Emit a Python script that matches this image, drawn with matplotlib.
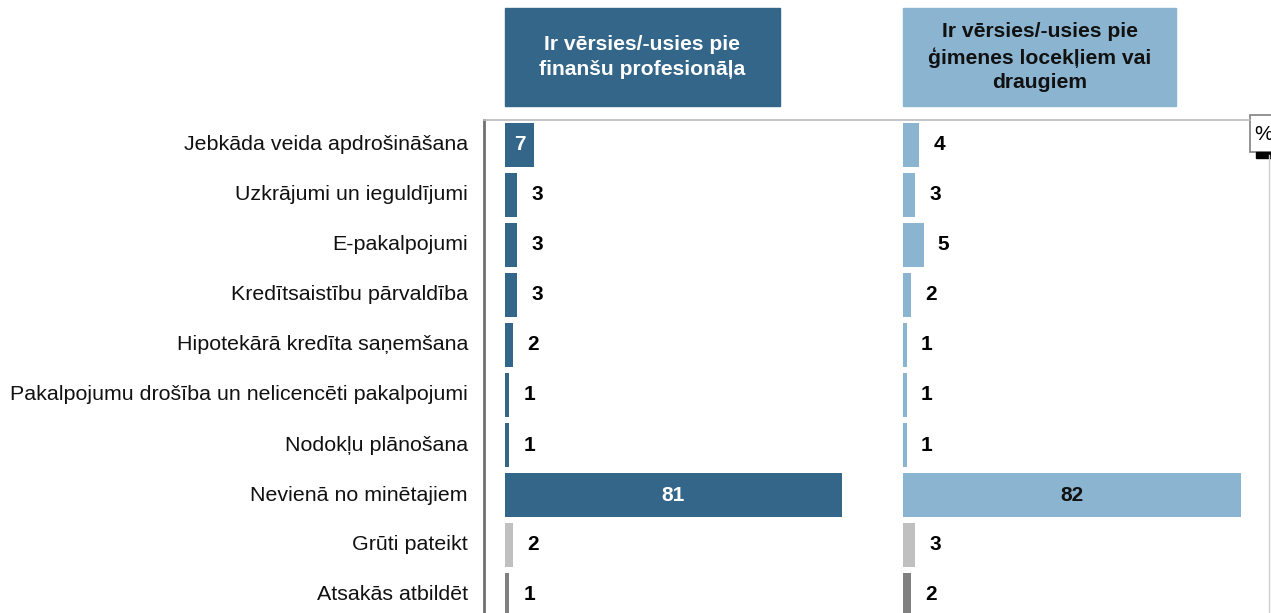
import numpy as np
import matplotlib.pyplot as plt
from matplotlib.patches import Rectangle
from matplotlib.lines import Line2D

plt.rcParams['font.family'] = ['Liberation Sans', 'DejaVu Sans']

categories = ['Jebkāda veida apdrošināšana', 'Uzkrājumi un ieguldījumi', 'E-pakalpojumi',
              'Kredītsaistību pārvaldība', 'Hipotekārā kredīta saņemšana',
              'Pakalpojumu drošība un nelicencēti pakalpojumi', 'Nodokļu plānošana',
              'Nevienā no minētajiem', 'Grūti pateikt', 'Atsakās atbildēt']
professional = [7, 3, 3, 3, 2, 1, 1, 81, 2, 1]
family = [4, 3, 5, 2, 1, 1, 1, 82, 3, 2]
headers = ['Ir vērsies/-usies pie\nfinanšu profesionāļa',
           'Ir vērsies/-usies pie\nģimenes locekļiem vai\ndraugiem']

dark_blue = '#336688'
light_blue = '#8AB4CF'
grey = '#C0C0C0'
dark_grey = '#808080'

W, H = 1271, 613
fig = plt.figure(figsize=(W / 100, H / 100), dpi=100)

def px_axes(x0, x1, y0, y1):
    return fig.add_axes([x0 / W, 1 - y1 / H, (x1 - x0) / W, (y1 - y0) / H])

y = np.arange(len(categories))
ylim = (9.36, -0.5)

panels = [
    (505, 880, 4.16, professional, dark_blue, 'white', headers[0], 780),
    (903, 1250, 4.12, family, light_blue, '#111111', headers[1], 1176),
]

for i, (x0, x1, scale, vals, col, big_txt, head, hx1) in enumerate(panels):
    ax = px_axes(x0, x1, 120, 613)
    ax.set_xlim(0, (x1 - x0) / scale)
    ax.set_ylim(*ylim)
    ax.axis('off')
    colors = [col] * 8 + [grey, dark_grey]
    ax.barh(y, vals, height=0.88, color=colors)
    for yy, v in zip(y, vals):
        if v >= 50:
            ax.text(v / 2, yy, str(v), ha='center', va='center', fontsize=15,
                    fontweight='bold', color=big_txt)
        elif i == 0 and v >= 6:
            ax.text(v / 2, yy, str(v), ha='center', va='center', fontsize=15,
                    fontweight='bold', color='white')
        else:
            ax.text(v + 14 / scale, yy, str(v), ha='left', va='center',
                    fontsize=15, fontweight='bold', color='black')
    if i == 0:
        for yy, lab in zip(y, categories):
            ax.text(-37 / scale, yy, lab, ha='right', va='center', fontsize=15.4,
                    color='#111111')
    # header box
    fig.patches.append(Rectangle((x0 / W, 1 - 106 / H), (hx1 - x0) / W, 98 / H,
                                 transform=fig.transFigure, color=col, zorder=0))
    fig.text((x0 + hx1) / 2 / W, 1 - 57 / H, head, ha='center', va='center',
             fontsize=15.2, fontweight='bold', color='white' if i == 0 else '#111111',
             linespacing=1.35)

# frame lines
fig.add_artist(Line2D([484 / W, 484 / W], [0, 1 - 120 / H], color='#707070', lw=2))
fig.add_artist(Line2D([484 / W, 1250 / W], [1 - 120 / H, 1 - 120 / H], color='#BBBBBB', lw=1.2))
fig.add_artist(Line2D([1269 / W, 1269 / W], [0, 1 - 155 / H], color='#CCCCCC', lw=1))
fig.patches.append(Rectangle((1250 / W, 1 - 152 / H), 25 / W, 37 / H, transform=fig.transFigure,
                             facecolor='white', edgecolor='#808080', lw=1.2))
fig.patches.append(Rectangle((1256 / W, 1 - 158 / H), 20 / W, 6 / H, transform=fig.transFigure,
                             color='black'))
fig.text(1254 / W, 1 - 134 / H, '%', ha='left', va='center', fontsize=15, color='black')

fig.savefig('out.png', dpi=100)
